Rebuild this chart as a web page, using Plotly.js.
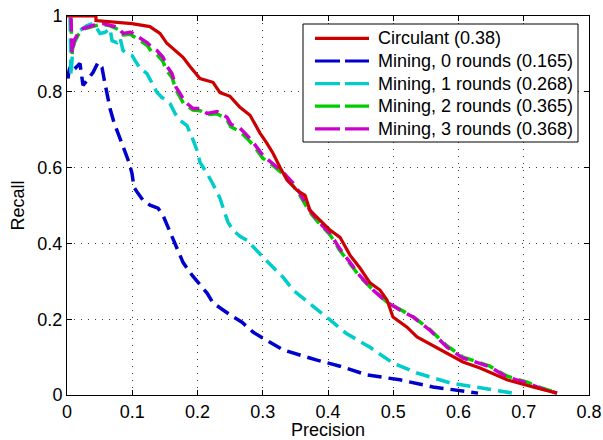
<!DOCTYPE html>
<html>
<head>
<meta charset="utf-8">
<script src="https://cdn.plot.ly/plotly-3.0.1.min.js"></script>
<style>html,body{margin:0;padding:0;background:#fff;}#chart{width:603px;height:440px;}</style>
</head>
<body>
<div id="chart"></div>
<script>
// Circulant (0.38)
const circX = [0,0.0444,0.0444,0.0996,0.127,0.1425,0.153,0.1655,0.1778,0.1885,0.1992,0.2038,0.2238,0.2345,0.2498,0.2651,0.2805,0.2958,0.3065,0.3157,0.3264,0.3372,0.3525,0.3648,0.3724,0.3877,0.4031,0.4184,0.4337,0.449,0.4644,0.4797,0.4904,0.4996,0.5211,0.5364,0.5563,0.5824,0.6069,0.633,0.6743,0.7142,0.751];
const circY = [1.0,1.0,0.988,0.980,0.972,0.954,0.928,0.909,0.891,0.867,0.843,0.835,0.825,0.798,0.788,0.759,0.738,0.691,0.664,0.638,0.601,0.567,0.540,0.527,0.487,0.461,0.435,0.416,0.369,0.335,0.296,0.277,0.251,0.206,0.179,0.153,0.134,0.111,0.087,0.071,0.040,0.021,0.005];
// Mining, 0 rounds (0.165)
const m0X = [0.0015,0.0031,0.0077,0.0138,0.0199,0.0245,0.0307,0.0398,0.0475,0.0536,0.0567,0.0613,0.0659,0.072,0.0782,0.0843,0.0889,0.0950,0.0996,0.1027,0.1088,0.1165,0.1272,0.1395,0.1471,0.1548,0.164,0.1701,0.1778,0.1916,0.2038,0.2146,0.2238,0.2391,0.2529,0.2682,0.2851,0.3004,0.331,0.3831,0.4184,0.4598,0.5103,0.5609,0.6299];
const m0Y = [0.835,0.856,0.877,0.864,0.875,0.817,0.830,0.851,0.877,0.864,0.835,0.791,0.756,0.719,0.690,0.667,0.640,0.614,0.585,0.548,0.532,0.514,0.501,0.493,0.474,0.443,0.408,0.382,0.350,0.316,0.290,0.269,0.243,0.224,0.208,0.192,0.166,0.150,0.119,0.092,0.076,0.053,0.040,0.021,0.005];
// Mining, 1 rounds (0.268)
const m1X = [0.0046,0.0061,0.0092,0.0199,0.0307,0.0398,0.046,0.0506,0.0582,0.0659,0.069,0.0766,0.0812,0.0858,0.092,0.0996,0.1042,0.1119,0.1226,0.1303,0.138,0.1456,0.1533,0.1579,0.1655,0.1732,0.1839,0.1916,0.1992,0.2038,0.2146,0.2238,0.2345,0.2406,0.2467,0.2544,0.2651,0.2759,0.2912,0.3004,0.3157,0.331,0.3464,0.3724,0.4031,0.4276,0.4644,0.4996,0.5364,0.587,0.6375,0.6835];
const m1Y = [0.996,0.843,0.922,0.962,0.975,0.980,0.967,0.954,0.957,0.967,0.935,0.930,0.943,0.909,0.901,0.896,0.883,0.862,0.848,0.825,0.798,0.785,0.777,0.769,0.743,0.725,0.711,0.680,0.646,0.614,0.585,0.556,0.519,0.487,0.456,0.435,0.419,0.408,0.382,0.364,0.337,0.311,0.277,0.242,0.198,0.163,0.126,0.084,0.058,0.032,0.018,0.005];
// Mining, 2 rounds (0.365)
const m2X = [0.006,0.008,0.011,0.017,0.025,0.04,0.055,0.066,0.078,0.086,0.097,0.101,0.112,0.123,0.130,0.138,0.147,0.153,0.161,0.167,0.173,0.179,0.186,0.193,0.204,0.215,0.230,0.245,0.251,0.265,0.276,0.285,0.300,0.316,0.331,0.346,0.357,0.372,0.388,0.403,0.418,0.434,0.449,0.469,0.490,0.510,0.530,0.556,0.582,0.607,0.618,0.648,0.674,0.705,0.725,0.752];
const m2Y = [0.99,0.90,0.93,0.95,0.965,0.973,0.978,0.974,0.965,0.950,0.952,0.948,0.935,0.922,0.905,0.898,0.880,0.855,0.838,0.805,0.785,0.768,0.760,0.752,0.750,0.740,0.742,0.727,0.708,0.695,0.677,0.660,0.625,0.605,0.583,0.553,0.527,0.483,0.450,0.423,0.382,0.347,0.312,0.277,0.246,0.226,0.207,0.173,0.130,0.100,0.094,0.076,0.050,0.034,0.020,0.005];
// Mining, 3 rounds (0.368)
const m3X = [0.0061,0.0077,0.0107,0.0169,0.0245,0.0398,0.0552,0.0659,0.0782,0.0858,0.0966,0.1011,0.1119,0.1226,0.1303,0.138,0.1471,0.1533,0.1609,0.1671,0.1732,0.1793,0.1854,0.1931,0.2038,0.2146,0.2299,0.2452,0.2513,0.2651,0.2759,0.2851,0.3004,0.3157,0.331,0.3464,0.3571,0.3724,0.3877,0.4031,0.4184,0.4337,0.449,0.469,0.4904,0.5103,0.5303,0.5563,0.5824,0.6069,0.6176,0.6483,0.6743,0.705,0.7249,0.751];
const m3Y = [0.996,0.901,0.935,0.954,0.967,0.975,0.980,0.975,0.970,0.954,0.957,0.954,0.941,0.930,0.917,0.909,0.891,0.867,0.848,0.812,0.796,0.777,0.767,0.756,0.756,0.743,0.748,0.733,0.714,0.704,0.685,0.667,0.632,0.611,0.588,0.559,0.532,0.487,0.453,0.427,0.385,0.350,0.314,0.277,0.245,0.224,0.206,0.171,0.126,0.097,0.092,0.074,0.047,0.032,0.018,0.005];

const names = ['Circulant (0.38)','Mining, 0 rounds (0.165)','Mining, 1 rounds (0.268)','Mining, 2 rounds (0.365)','Mining, 3 rounds (0.368)'];
const colors = ['rgb(204,0,0)','rgb(0,0,204)','rgb(0,204,204)','rgb(0,204,0)','rgb(204,0,204)'];
const xTicks = [0,0.1,0.2,0.3,0.4,0.5,0.6,0.7,0.8];
const xTickText = ['0','0.1','0.2','0.3','0.4','0.5','0.6','0.7','0.8'];
const yTicks = [0,0.2,0.4,0.6,0.8,1];
const yTickText = ['0','0.2','0.4','0.6','0.8','1'];

const dash = '14px,7px';
const traces = [
  {x:m0X,y:m0Y,name:names[1],line:{color:colors[1],width:3.5,dash:dash}},
  {x:m1X,y:m1Y,name:names[2],line:{color:colors[2],width:3.5,dash:dash}},
  {x:m2X,y:m2Y,name:names[3],line:{color:colors[3],width:3.5,dash:dash}},
  {x:m3X,y:m3Y,name:names[4],line:{color:colors[4],width:3.5,dash:dash}},
  {x:circX,y:circY,name:names[0],line:{color:colors[0],width:3.2}}
].map(t => Object.assign({type:'scatter',mode:'lines',showlegend:false}, t));

// Legend drawn as shapes + annotations (layout geometry in pixels)
const W = 603, H = 440, ML = 67, MR = 14, MT = 16, MB = 45;
const PW = W - ML - MR, PH = H - MT - MB;
const fx = p => (p - ML) / PW;
const fy = p => (H - MB - p) / PH;
const shapes = [{type:'rect', xref:'paper', yref:'paper', x0:fx(303), x1:fx(578), y0:fy(142), y1:fy(24),
  fillcolor:'white', line:{color:'black', width:1}, layer:'above'}];
const annotations = [];
const rowY = [38.3, 61, 83.6, 106.2, 128.8];
names.forEach((n, i) => {
  shapes.push({type:'line', xref:'paper', yref:'paper', x0:fx(315), x1:fx(369), y0:fy(rowY[i]), y1:fy(rowY[i]),
    line:{color:colors[i], width:3.2, dash: i === 0 ? 'solid' : '25px,5px'}, layer:'above'});
  annotations.push({xref:'paper', yref:'paper', x:fx(376), y:fy(rowY[i]), xanchor:'left', yanchor:'middle',
    text:n, showarrow:false, font:{size:18, color:'black'}});
});

const axisCommon = {
  showline:true, linecolor:'black', linewidth:1, mirror:'ticks',
  ticks:'inside', ticklen:5, tickcolor:'black',
  showgrid:true, gridcolor:'rgb(60,60,60)', griddash:'1px,6px', gridwidth:1,
  zeroline:false, tickfont:{size:18,color:'black'}
};

const layout = {
  width:W, height:H,
  margin:{l:ML,r:MR,t:MT,b:MB},
  paper_bgcolor:'white', plot_bgcolor:'white',
  font:{family:'Liberation Sans, Arial, sans-serif', color:'black', size:18},
  showlegend:false,
  shapes:shapes, annotations:annotations,
  xaxis:Object.assign({}, axisCommon, {range:[0,0.8], tickvals:xTicks, ticktext:xTickText, title:{text:'Precision', font:{size:18}, standoff:4}}),
  yaxis:Object.assign({}, axisCommon, {range:[0,1], tickvals:yTicks, ticktext:yTickText, title:{text:'Recall', font:{size:18}, standoff:8}})
};

Plotly.newPlot('chart', traces, layout, {displayModeBar:false, staticPlot:true});
</script>
</body>
</html>
